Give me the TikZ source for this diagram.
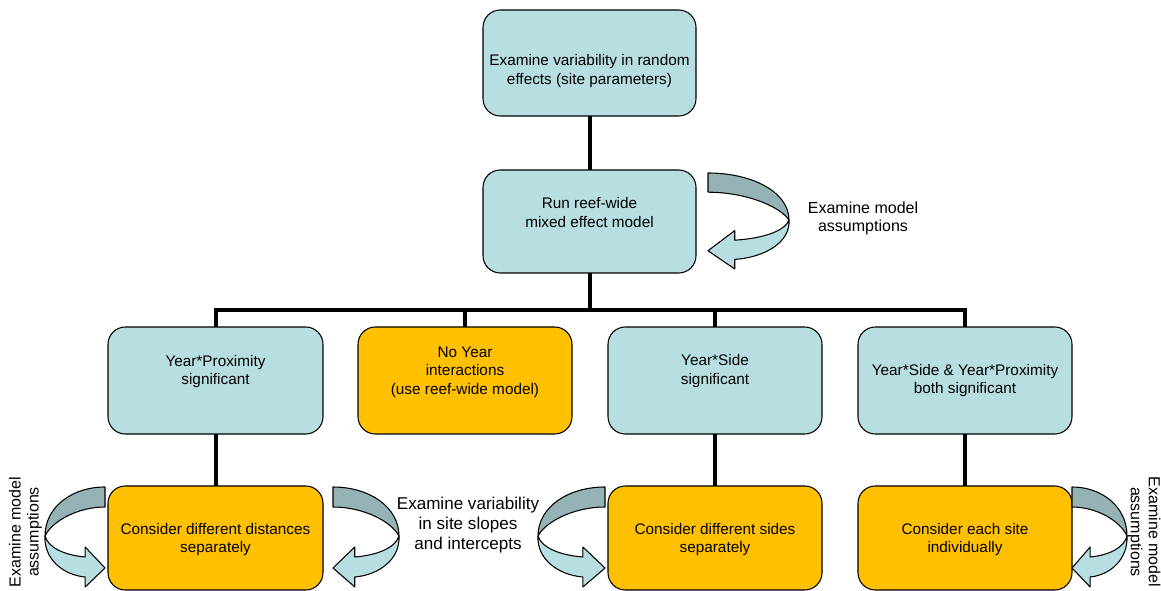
\documentclass[tikz,border=0pt]{standalone}
\usepackage{fontspec}
\setmainfont{Liberation Sans}
\definecolor{boxblue}{RGB}{183,222,224}
\definecolor{boxorange}{RGB}{255,192,0}
\definecolor{arrowdark}{RGB}{149,179,181}
\newcommand\mkbox[6]{\node[#2, minimum width={(#5-#3)*0.75pt}, minimum height={(#6-#4)*0.75pt}] (#1) at ({(#3+#5)/2},{(#4+#6)/2}) {};}
\newcommand\curvarrow[4]{%
\begin{scope}[shift={(#1,#2)}, xscale=#3, yscale=#4]
\draw[arrowline, fill=arrowdark] (0,0) .. controls (0.55,0) and (1,0.2) .. (1,0.49) .. controls (0.88,0.34) and (0.45,0.2) .. (0,0.2) -- cycle;
\draw[arrowline, fill=boxblue] (1,0.49) .. controls (1.02,0.72) and (0.7,0.88) .. (0.33,0.9) -- (0.33,1.0) -- (0,0.81) -- (0.33,0.6) -- (0.33,0.7) .. controls (0.7,0.68) and (0.95,0.6) .. (1,0.49) -- cycle;
\end{scope}}
\begin{document}
\begin{tikzpicture}[x=0.75pt, y=-0.75pt,
  box/.style={draw=black, line width=0.8pt, rounded corners=13pt, inner sep=0pt, outer sep=0pt},
  bluebox/.style={box, fill=boxblue},
  orangebox/.style={box, fill=boxorange},
  conn/.style={line width=3pt},
  arrowline/.style={draw=black, line width=0.8pt, line join=round},
  txt/.style={align=center, font=\fontsize{11.5}{14}\selectfont, inner sep=0pt},
  lbl/.style={align=center, font=\fontsize{12}{13.5}\selectfont, inner sep=0pt},
  lblbig/.style={align=center, font=\fontsize{12.8}{15}\selectfont, inner sep=0pt}]
\useasboundingbox (0,0) rectangle (1161,591);
% boxes
\mkbox{top}{bluebox}{483}{10}{696}{116}
\mkbox{run}{bluebox}{483}{170}{696}{273}
\mkbox{b1}{bluebox}{108}{327}{323}{434}
\mkbox{b2}{orangebox}{358}{327}{572}{434}
\mkbox{b3}{bluebox}{608}{327}{822}{434}
\mkbox{b4}{bluebox}{858}{327}{1072}{434}
\mkbox{c1}{orangebox}{108}{486}{323}{590}
\mkbox{c3}{orangebox}{608}{486}{822}{590}
\mkbox{c4}{orangebox}{858}{486}{1072}{590}
% connectors
\coordinate (bus) at (589.5,310);
\draw[conn] (top.south) -- (run.north);
\draw[conn] (run.south) -- (bus);
\draw[conn] (b1.north) |- (bus) -| (b4.north);
\draw[conn] (b2.north) -- (b2.north |- bus);
\draw[conn] (b3.north) -- (b3.north |- bus);
\draw[conn] (b1.south) -- (c1.north);
\draw[conn] (b3.south) -- (c3.north);
\draw[conn] (b4.south) -- (c4.north);
% texts
\node[txt] (t0) at (589.5,71) {Examine variability in random\\effects (site parameters)};
\node[txt] (t1) at (589.5,212.5) {Run reef-wide\\mixed effect model};
\node[txt] (t2) at (215.5,371.5) {Year*Proximity\\significant};
\node[txt] (t3) at (465,372) {No Year\\interactions\\(use reef-wide model)};
\node[txt] (t4) at (715,371) {Year*Side\\significant};
\node[txt] (t5) at (965,380.5) {Year*Side \& Year*Proximity\\both significant};
\node[txt] (t6) at (215.5,539.5) {Consider different distances\\separately};
\node[txt] (t7) at (715,539.5) {Consider different sides\\separately};
\node[txt] (t8) at (965,539.5) {Consider each site\\individually};
% curved arrows
\curvarrow{708}{173}{81}{96}
\curvarrow{105}{487}{-60}{100}
\curvarrow{333}{487}{66}{100}
\curvarrow{605}{487}{-67}{100}
\curvarrow{1072}{487}{55}{100}
% labels
\node[lbl] (la) at (863,218) {Examine model\\assumptions};
\node[lbl, rotate=90] (ll) at (25.5,532) {Examine model\\assumptions};
\node[lbl, rotate=-90] (lr) at (1144,532) {Examine model\\assumptions};
\node[lblbig] (lm) at (468,525) {Examine variability\\in site slopes\\and intercepts};
\end{tikzpicture}
\end{document}
